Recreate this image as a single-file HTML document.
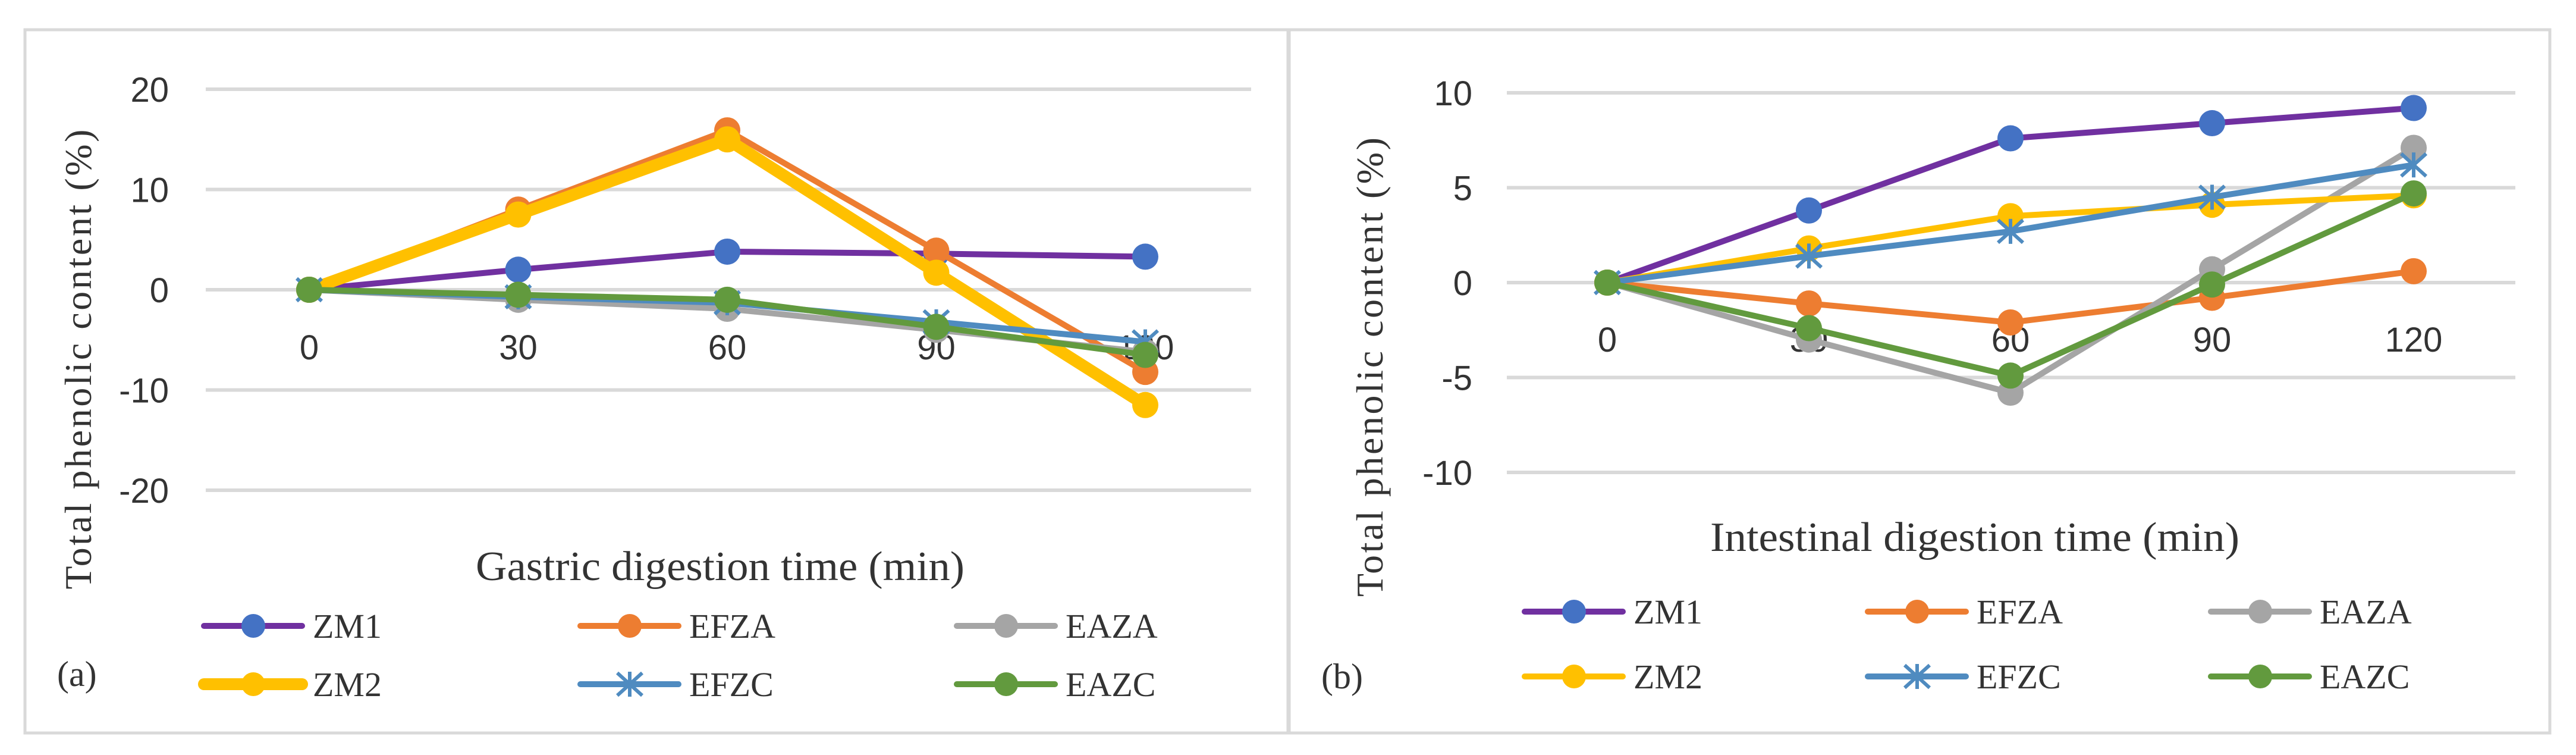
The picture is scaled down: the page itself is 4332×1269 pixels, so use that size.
<!DOCTYPE html>
<html><head><meta charset="utf-8"><style>
html,body{margin:0;padding:0;background:#fff}
svg{display:block}
.tick{font-family:"Liberation Sans",sans-serif;font-size:58px;fill:#333}
.ttl{font-family:"Liberation Serif",serif;font-size:70px;fill:#333}
.leg{font-family:"Liberation Serif",serif;font-size:58px;fill:#333}
</style></head><body>
<svg id="fig" width="4332" height="1269" viewBox="0 0 4332 1269" xmlns="http://www.w3.org/2000/svg">
<rect x="42" y="50" width="2124" height="1182" fill="none" stroke="#d9d9d9" stroke-width="5"/>
<rect x="2168" y="50" width="2120" height="1182" fill="none" stroke="#d9d9d9" stroke-width="5"/>
<g id="pa"></g>
<g id="pb"></g>
</svg>
<script>
const categories = [0, 30, 60, 90, 120];
const seriesNames = ["ZM1", "EFZA", "EAZA", "ZM2", "EFZC", "EAZC"];
const gastricZM1 = [0, 2, 3.8, 3.6, 3.3];
const gastricEFZA = [0, 8, 15.9, 3.9, -8.2];
const gastricEAZA = [0, -1, -1.9, -4, -6.2];
const gastricZM2 = [0, 7.5, 15, 1.7, -11.5];
const gastricEFZC = [0, -0.7, -1.3, -3.2, -5.2];
const gastricEAZC = [0, -0.5, -1, -3.7, -6.5];
const intestZM1 = [0, 3.8, 7.6, 8.4, 9.2];
const intestEFZA = [0, -1.1, -2.1, -0.8, 0.6];
const intestEAZA = [0, -3, -5.8, 0.7, 7.1];
const intestZM2 = [0, 1.8, 3.5, 4.1, 4.6];
const intestEFZC = [0, 1.4, 2.7, 4.5, 6.2];
const intestEAZC = [0, -2.4, -4.9, -0.1, 4.7];
const gastricTicks = [20, 10, 0, -10, -20];
const intestTicks = [10, 5, 0, -5, -10];

const NS = "http://www.w3.org/2000/svg";
const styles = {
  ZM1:{line:"#7030A0",mk:"#4472C4",type:"c"},
  EFZA:{line:"#ED7D31",mk:"#ED7D31",type:"c"},
  EAZA:{line:"#A5A5A5",mk:"#A5A5A5",type:"c"},
  ZM2:{line:"#FFC000",mk:"#FFC000",type:"c"},
  EFZC:{line:"#4F8BC0",mk:"#4F8BC0",type:"x"},
  EAZC:{line:"#629A3E",mk:"#629A3E",type:"c"}
};
function mk(tag, attrs, parent){const e=document.createElementNS(NS,tag);for(const k in attrs)e.setAttribute(k,attrs[k]);parent.appendChild(e);return e;}
function marker(g,type,x,y,col,r){
  if(type==="c"){const c=mk("circle",{cx:x,cy:y,r:r,fill:col},g);return c;}
  const grp=mk("g",{stroke:col,"stroke-width":6},g);
  mk("line",{x1:x,y1:y-21,x2:x,y2:y+21},grp);
  mk("line",{x1:x-21,y1:y-19,x2:x+21,y2:y+19},grp);
  mk("line",{x1:x-21,y1:y+19,x2:x+21,y2:y-19},grp);
  return grp;
}
function draw(cfg){
  const g=document.getElementById(cfg.id);
  const sx=i=>cfg.x0+i*cfg.dx;
  const sy=v=>cfg.y0-v*cfg.pu;
  cfg.ticks.forEach(t=>{
    const l=mk("line",{x1:cfg.gx0,x2:cfg.gx1,y1:sy(t),y2:sy(t),stroke:"#d9d9d9","stroke-width":6},g);
    
    
    const tx=mk("text",{x:cfg.tickR,y:sy(t)+21,"text-anchor":"end",class:"tick"},g);
    tx.textContent=String(t);
    
    
  });
  categories.forEach((c,i)=>{
    const tx=mk("text",{x:sx(i),y:cfg.xtY+21,"text-anchor":"middle",class:"tick"},g);
    tx.textContent=c;
    
    
  });
  seriesNames.forEach((n,si)=>{
    const vals=cfg.data[si];const st=styles[n];
    const sg=mk("g",{},g);
    
    
    const w=(cfg.thick&&n==="ZM2")?20:10;
    mk("polyline",{points:vals.map((v,i)=>sx(i)+","+sy(v)).join(" "),fill:"none",stroke:st.line,"stroke-width":w,"stroke-linejoin":"round"},sg);
    vals.forEach((v,i)=>{const m=marker(sg,st.type,sx(i),sy(v),st.mk,22);
      
      });
  });
  const xt=mk("text",{x:cfg.xtitleX,y:cfg.xtitleY+24,"text-anchor":"middle",class:"ttl",textLength:cfg.xtitleW,lengthAdjust:"spacingAndGlyphs"},g);
  xt.textContent=cfg.xtitle;
  
  
  const yt=mk("text",{x:0,y:0,"text-anchor":"middle","font-family":"Liberation Serif, serif","font-size":"64",fill:"#333",transform:`translate(${cfg.ytitleX+22},${cfg.ytitleY}) rotate(-90)`,textLength:cfg.ytitleW,lengthAdjust:"spacing"},g);
  yt.textContent="Total phenolic content (%)";
  
  
  seriesNames.forEach((n,si)=>{
    const st=styles[n];const col=si%3,row=Math.floor(si/3);
    const lx=cfg.legX[col],ly=cfg.legY[row];
    const lg=mk("g",{},g);
    
    
    const w=(cfg.thick&&n==="ZM2")?20:10;
    mk("line",{x1:lx,x2:lx+165,y1:ly,y2:ly,stroke:st.line,"stroke-width":w,"stroke-linecap":"round"},lg);
    marker(lg,st.type,lx+83,ly,st.mk,20);
    const t=mk("text",{x:lx+183,y:ly+20,class:"leg"},lg);
    t.textContent=n;
  });
  const pl=mk("text",{x:cfg.plX,y:cfg.plY+20,class:"leg",style:"font-size:60px"},g);
  pl.textContent=cfg.plabel;
  
  
}
draw({id:"pa",x0:520,dx:351.5,y0:487,pu:16.85,gx0:346,gx1:2104,tickR:284,xtY:583,ticks:gastricTicks,
  data:[gastricZM1,gastricEFZA,gastricEAZA,gastricZM2,gastricEFZC,gastricEAZC],thick:true,
  xtitle:"Gastric digestion time (min)",xtitleX:1211,xtitleY:951,xtitleW:822,ytitleX:131,ytitleY:604,ytitleW:773,
  legX:[343,976,1609],legY:[1052,1150],plabel:"(a)",plX:96,plY:1133});
draw({id:"pb",x0:2703,dx:339,y0:475,pu:31.9,gx0:2534,gx1:4230,tickR:2476,xtY:570,ticks:intestTicks,
  data:[intestZM1,intestEFZA,intestEAZA,intestZM2,intestEFZC,intestEAZC],thick:false,
  xtitle:"Intestinal digestion time (min)",xtitleX:3321,xtitleY:902,xtitleW:890,ytitleX:2303,ytitleY:617,ytitleW:772,
  legX:[2564,3141,3718],legY:[1028,1137],plabel:"(b)",plX:2222,plY:1137});
</script>
</body></html>
